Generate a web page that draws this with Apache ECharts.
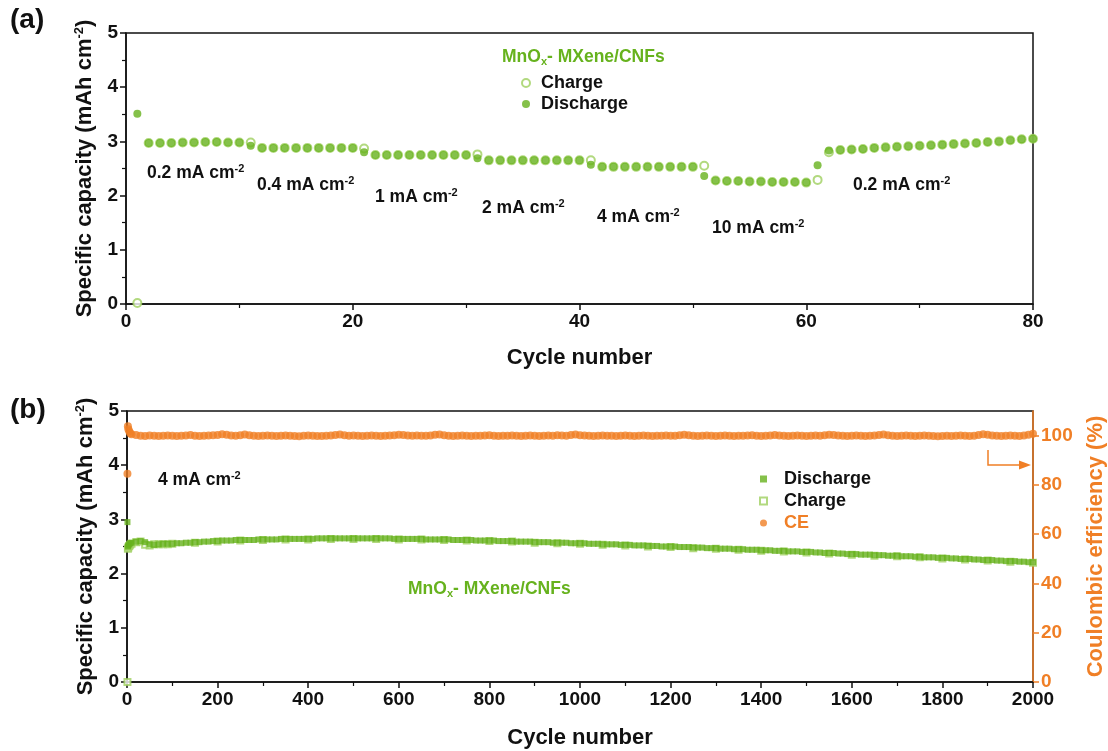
<!DOCTYPE html>
<html><head><meta charset="utf-8">
<script src="https://cdn.jsdelivr.net/npm/echarts@6/dist/echarts.min.js"></script>
<style>html,body{margin:0;padding:0;background:#fff}#c{width:1108px;height:751px}</style>
</head><body><div id="c"></div>
<script>
const FONT = '"Liberation Sans", Arial, sans-serif';
const GREEN = '#66b21d';
const LIGHT = '#9fd05f';
const ORANGE = '#f07f26';

// ---------- (a) rate performance ----------
const cyclesA = [1,2,3,4,5,6,7,8,9,10,11,12,13,14,15,16,17,18,19,20,21,22,23,24,25,26,27,28,29,30,
  31,32,33,34,35,36,37,38,39,40,41,42,43,44,45,46,47,48,49,50,51,52,53,54,55,56,57,58,59,60,
  61,62,63,64,65,66,67,68,69,70,71,72,73,74,75,76,77,78,79,80];
const dischargeA = [3.51,2.97,2.97,2.97,2.98,2.98,2.99,2.99,2.98,2.98,
  2.92,2.88,2.88,2.88,2.88,2.88,2.88,2.88,2.88,2.88,
  2.80,2.75,2.75,2.75,2.75,2.75,2.75,2.75,2.75,2.75,
  2.69,2.65,2.65,2.65,2.65,2.65,2.65,2.65,2.65,2.65,
  2.57,2.53,2.53,2.53,2.53,2.53,2.53,2.53,2.53,2.53,
  2.36,2.28,2.27,2.27,2.26,2.26,2.25,2.25,2.25,2.24,
  2.56,2.83,2.84,2.85,2.86,2.88,2.89,2.90,2.91,2.92,2.93,2.94,2.95,2.96,2.97,2.99,3.00,3.02,3.04,3.05];
const chargeA = [0.02,2.97,2.97,2.97,2.98,2.98,2.99,2.99,2.98,2.98,
  2.98,2.88,2.88,2.88,2.88,2.88,2.88,2.88,2.88,2.88,
  2.87,2.75,2.75,2.75,2.75,2.75,2.75,2.75,2.75,2.75,
  2.76,2.65,2.65,2.65,2.65,2.65,2.65,2.65,2.65,2.65,
  2.65,2.53,2.53,2.53,2.53,2.53,2.53,2.53,2.53,2.53,
  2.55,2.28,2.27,2.27,2.26,2.26,2.25,2.25,2.25,2.24,
  2.29,2.80,2.84,2.85,2.86,2.88,2.89,2.90,2.91,2.92,2.93,2.94,2.95,2.96,2.97,2.99,3.00,3.02,3.04,3.05];
const rateLabels = ['0.2','0.4','1','2','4','10','0.2'];

// ---------- (b) long cycling at 4 mA cm-2 ----------
const cyclesB = [1,2,3,5,7,
  10,20,30,40,50,60,70,80,90,100,
  110,120,130,140,150,160,170,180,190,200,
  210,220,230,240,250,260,270,280,290,300,
  310,320,330,340,350,360,370,380,390,400,
  410,420,430,440,450,460,470,480,490,500,
  510,520,530,540,550,560,570,580,590,600,
  610,620,630,640,650,660,670,680,690,700,
  710,720,730,740,750,760,770,780,790,800,
  810,820,830,840,850,860,870,880,890,900,
  910,920,930,940,950,960,970,980,990,1000,
  1010,1020,1030,1040,1050,1060,1070,1080,1090,1100,
  1110,1120,1130,1140,1150,1160,1170,1180,1190,1200,
  1210,1220,1230,1240,1250,1260,1270,1280,1290,1300,
  1310,1320,1330,1340,1350,1360,1370,1380,1390,1400,
  1410,1420,1430,1440,1450,1460,1470,1480,1490,1500,
  1510,1520,1530,1540,1550,1560,1570,1580,1590,1600,
  1610,1620,1630,1640,1650,1660,1670,1680,1690,1700,
  1710,1720,1730,1740,1750,1760,1770,1780,1790,1800,
  1810,1820,1830,1840,1850,1860,1870,1880,1890,1900,
  1910,1920,1930,1940,1950,1960,1970,1980,1990,2000];
const dischargeB = [2.95,2.50,2.52,2.54,2.56,
  2.57,2.59,2.60,2.58,2.54,2.53,2.54,2.55,2.55,2.55,
  2.56,2.56,2.57,2.57,2.58,2.58,2.59,2.59,2.60,2.60,
  2.61,2.61,2.61,2.62,2.62,2.62,2.62,2.62,2.63,2.63,
  2.63,2.63,2.63,2.64,2.64,2.64,2.64,2.64,2.64,2.64,
  2.64,2.65,2.65,2.65,2.65,2.65,2.65,2.65,2.65,2.65,
  2.65,2.65,2.65,2.65,2.65,2.65,2.65,2.65,2.64,2.64,
  2.64,2.64,2.64,2.64,2.64,2.63,2.63,2.63,2.63,2.63,
  2.63,2.62,2.62,2.62,2.62,2.62,2.61,2.61,2.61,2.61,
  2.61,2.60,2.60,2.60,2.60,2.59,2.59,2.59,2.59,2.58,
  2.58,2.58,2.58,2.57,2.57,2.57,2.57,2.56,2.56,2.56,
  2.56,2.55,2.55,2.55,2.54,2.54,2.54,2.54,2.53,2.53,
  2.53,2.52,2.52,2.52,2.51,2.51,2.51,2.50,2.50,2.50,
  2.50,2.49,2.49,2.49,2.48,2.48,2.48,2.47,2.47,2.47,
  2.46,2.46,2.46,2.45,2.45,2.45,2.44,2.44,2.44,2.43,
  2.43,2.43,2.42,2.42,2.42,2.41,2.41,2.41,2.40,2.40,
  2.40,2.39,2.39,2.38,2.38,2.38,2.37,2.37,2.36,2.36,
  2.36,2.35,2.35,2.35,2.34,2.34,2.34,2.33,2.33,2.33,
  2.32,2.32,2.32,2.31,2.31,2.30,2.30,2.30,2.29,2.29,
  2.29,2.28,2.28,2.27,2.27,2.27,2.26,2.26,2.25,2.25,
  2.25,2.24,2.24,2.23,2.23,2.23,2.22,2.22,2.21,2.21];
const ceB = [84.5,103.8,102.6,101.8,101.0,
  100.6,100.3,100.0,99.9,100.1,100.0,99.9,100.0,100.1,100.0,
  99.9,100.0,100.1,100.3,100.0,99.9,100.0,100.1,100.2,100.3,
  100.6,100.4,100.1,100.0,100.2,100.5,100.2,100.0,99.9,100.0,
  100.1,100.0,99.9,100.0,100.1,100.0,99.9,99.8,100.0,100.1,
  100.0,99.9,99.9,100.0,100.1,100.3,100.5,100.2,100.0,100.1,
  100.0,99.9,100.0,100.1,100.0,99.9,100.0,100.1,100.2,100.4,
  100.3,100.1,100.0,100.1,100.0,100.0,100.1,100.4,100.5,100.2,
  100.0,99.9,100.0,100.1,100.0,99.9,100.0,100.0,100.1,100.2,
  100.0,99.9,100.0,100.0,100.1,100.0,99.9,100.0,100.1,100.0,
  99.9,100.0,100.1,100.0,100.2,100.1,100.0,100.3,100.5,100.2,
  100.1,100.0,99.9,100.0,100.1,100.0,100.0,99.9,100.0,100.1,
  100.0,99.9,100.0,100.1,100.0,99.9,100.0,100.0,100.1,100.0,
  100.0,100.2,100.4,100.2,100.0,99.9,100.0,100.1,100.0,99.9,
  100.0,100.1,100.0,99.9,100.0,100.0,100.1,100.2,100.0,99.9,
  100.0,100.1,100.3,100.1,100.0,99.9,100.0,100.1,100.0,99.9,
  100.0,100.1,100.0,100.2,100.4,100.3,100.1,100.0,99.9,100.0,
  100.1,100.0,99.9,100.0,100.1,100.3,100.5,100.2,100.0,99.9,
  100.0,100.1,100.0,99.9,100.0,100.1,100.0,99.9,99.8,99.9,
  100.0,99.9,100.0,100.1,100.0,99.9,100.0,100.3,100.6,100.4,
  100.1,100.0,99.9,100.0,100.1,100.0,99.9,100.1,100.4,100.8];
const cyclesBC = [1,2,3,5,7,10,20,30,40,50,60,70,80,90,100,
  150,200,250,300,350,400,450,500,550,600,650,700,750,800,850,900,950,1000,
  1050,1100,1150,1200,1250,1300,1350,1400,1450,1500,1550,1600,1650,1700,1750,1800,1850,1900,1950,2000];
const chargeB = [0.00,2.46,2.48,2.51,2.53,2.55,2.58,2.59,2.53,2.52,2.54,2.54,2.54,2.54,2.55,
  2.57,2.59,2.61,2.62,2.63,2.63,2.64,2.64,2.64,2.63,2.63,2.62,2.61,2.60,2.59,2.57,2.56,2.55,
  2.53,2.52,2.50,2.49,2.47,2.46,2.44,2.42,2.41,2.39,2.37,2.35,2.33,2.32,2.30,2.28,2.26,2.24,2.22,2.20];

const zip = (xs, ys) => xs.map((x, i) => [x, ys[i]]);

const tickLabel = { fontFamily: FONT, fontWeight: 'bold', fontSize: 19, color: '#111', formatter: v => String(v) };
const axisNameStyle = { fontFamily: FONT, fontWeight: 'bold', fontSize: 22, color: '#111', lineHeight: 24, rich: { sup: { fontSize: 13, fontWeight: 'bold', fontFamily: FONT, verticalAlign: 'top', lineHeight: 13, color: '#111' } } };
const blackLine = { show: true, lineStyle: { color: '#111', width: 1.5 } };
const tickOut = { show: true, inside: false, length: 6, lineStyle: { color: '#111', width: 1.5 } };
const minor = { show: true, splitNumber: 2, length: 4, lineStyle: { color: '#111', width: 1.2 } };

function annot(x, y, txt, color) {
  return { type: 'text', x, y, style: {
    text: txt, fill: color || '#111', fontFamily: FONT, fontWeight: 'bold', fontSize: 17.5,
    lineHeight: 20, verticalAlign: 'middle', rich: { sup: { fontSize: 11, fontWeight: 'bold', fontFamily: FONT, verticalAlign: 'top', lineHeight: 11, fill: color || '#111' },
      sub: { fontSize: 11, fontWeight: 'bold', fontFamily: FONT, verticalAlign: 'bottom', lineHeight: 11, fill: color || '#111' } } } };
}
const ratePos = [[147,173],[257,185],[375,197],[482,208],[597,217],[712,228],[853,185]];

const chart = echarts.init(document.getElementById('c'), null, { renderer: 'canvas' });
chart.setOption({
  animation: false,
  backgroundColor: '#fff',
  grid: [
    { left: 126, right: 75, top: 33, height: 271, show: true, borderColor: '#111', borderWidth: 1.5, backgroundColor: 'transparent', containLabel: false, outerBoundsMode: 'none' },
    { left: 127, right: 75, top: 411, height: 271, show: true, borderColor: '#111', borderWidth: 1.5, backgroundColor: 'transparent', containLabel: false, outerBoundsMode: 'none' }
  ],
  xAxis: [
    { type: 'value', gridIndex: 0, min: 0, max: 80, interval: 20, axisLine: blackLine, axisTick: tickOut, minorTick: minor,
      splitLine: { show: false }, axisLabel: Object.assign({ margin: 8 }, tickLabel),
      name: 'Cycle number', nameLocation: 'middle', nameGap: 42, nameTextStyle: axisNameStyle },
    { type: 'value', gridIndex: 1, min: 0, max: 2000, interval: 200, axisLine: blackLine, axisTick: tickOut, minorTick: minor,
      splitLine: { show: false }, axisLabel: Object.assign({ margin: 8 }, tickLabel),
      name: 'Cycle number', nameLocation: 'middle', nameGap: 44, nameTextStyle: axisNameStyle }
  ],
  yAxis: [
    { type: 'value', gridIndex: 0, min: 0, max: 5, interval: 1, axisLine: blackLine, axisTick: tickOut, minorTick: minor,
      splitLine: { show: false }, axisLabel: Object.assign({ margin: 8 }, tickLabel),
      name: 'Specific capacity (mAh cm{sup|-2})', nameLocation: 'middle', nameGap: 28, nameTextStyle: axisNameStyle },
    { type: 'value', gridIndex: 1, min: 0, max: 5, interval: 1, axisLine: blackLine, axisTick: tickOut, minorTick: minor,
      splitLine: { show: false }, axisLabel: Object.assign({ margin: 8 }, tickLabel),
      name: 'Specific capacity (mAh cm{sup|-2})', nameLocation: 'middle', nameGap: 28, nameTextStyle: axisNameStyle },
    { type: 'value', gridIndex: 1, position: 'right', min: 0, max: 110, interval: 20,
      axisLine: { show: true, lineStyle: { color: ORANGE, width: 1.5 } },
      axisTick: { show: true, inside: false, length: 6, lineStyle: { color: ORANGE, width: 1.5 } },
      minorTick: { show: false },
      splitLine: { show: false }, axisLabel: Object.assign({}, tickLabel, { color: ORANGE, margin: 8, showMaxLabel: false }),
      name: 'Coulombic efficiency (%)', nameLocation: 'middle', nameGap: 50,
      nameTextStyle: Object.assign({}, axisNameStyle, { color: ORANGE }) }
  ],
  legend: [
    { left: 516, top: 69, orient: 'vertical', itemWidth: 8, itemHeight: 8, itemGap: 3,
      data: ['Charge', 'Discharge'],
      textStyle: { fontFamily: FONT, fontWeight: 'bold', fontSize: 18, color: '#111', lineHeight: 18, padding: [0, 0, 0, 6] } },
    { left: 754, top: 465, orient: 'vertical', itemWidth: 7, itemHeight: 7, itemGap: 4,
      data: ['Discharge B', 'Charge B', { name: 'CE', textStyle: { color: ORANGE } }],
      formatter: n => n.replace(' B', ''),
      textStyle: { fontFamily: FONT, fontWeight: 'bold', fontSize: 18, color: '#111', lineHeight: 18, padding: [0, 0, 0, 12] } }
  ],
  series: [
    { name: 'Charge', type: 'scatter', xAxisIndex: 0, yAxisIndex: 0, data: zip(cyclesA, chargeA),
      symbol: 'emptyCircle', symbolSize: 8, itemStyle: { color: LIGHT, borderColor: LIGHT, borderWidth: 1 } },
    { name: 'Discharge', type: 'scatter', xAxisIndex: 0, yAxisIndex: 0, data: zip(cyclesA, dischargeA),
      symbol: 'circle', symbolSize: 8, itemStyle: { color: GREEN } },
    { name: 'Charge B', type: 'scatter', xAxisIndex: 1, yAxisIndex: 1, data: zip(cyclesBC, chargeB),
      symbol: 'emptyRect', symbolSize: 6, itemStyle: { color: LIGHT, borderColor: LIGHT, borderWidth: 1 } },
    { name: 'Discharge B', type: 'scatter', xAxisIndex: 1, yAxisIndex: 1, data: zip(cyclesB, dischargeB),
      symbol: 'rect', symbolSize: 6, itemStyle: { color: GREEN } },
    { name: 'CE', type: 'scatter', xAxisIndex: 1, yAxisIndex: 2, data: zip(cyclesB, ceB),
      symbol: 'circle', symbolSize: 8, itemStyle: { color: ORANGE } }
  ],
  graphic: [
    { type: 'text', x: 10, y: 6, style: { text: '(a)', fontFamily: FONT, fontWeight: 'bold', fontSize: 28, fill: '#111' } },
    { type: 'text', x: 10, y: 396, style: { text: '(b)', fontFamily: FONT, fontWeight: 'bold', fontSize: 28, fill: '#111' } },
    annot(502, 57, 'MnO{sub|x}- MXene/CNFs', GREEN),
    ...rateLabels.map((r, i) => annot(ratePos[i][0], ratePos[i][1], r + ' mA cm{sup|-2}')),
    annot(158, 480, '4 mA cm{sup|-2}'),
    annot(408, 589, 'MnO{sub|x}- MXene/CNFs', GREEN),
    { type: 'polyline', shape: { points: [[988, 450], [988, 465], [1022, 465]] }, style: { stroke: ORANGE, lineWidth: 1.5, fill: null } },
    { type: 'polygon', shape: { points: [[1019, 460.5], [1031, 465], [1019, 469.5]] }, style: { fill: ORANGE } }
  ]
});
</script>
</body></html>
